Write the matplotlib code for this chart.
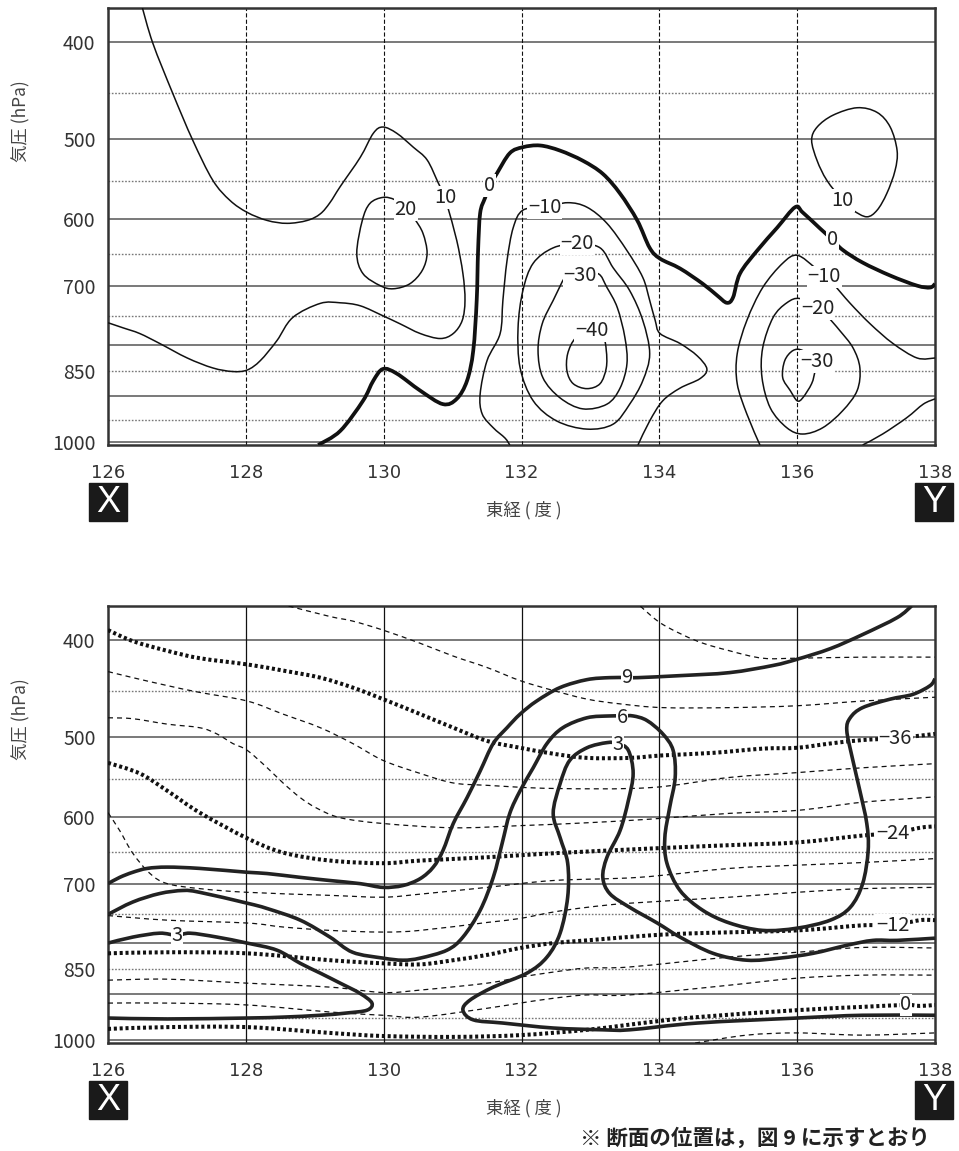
import numpy as np
import matplotlib.pyplot as plt
from matplotlib.patches import Rectangle, PathPatch
from matplotlib.path import Path
from matplotlib.ticker import NullLocator

plt.rcParams['font.family'] = ['Noto Sans CJK JP', 'DejaVu Sans']
plt.rcParams['lines.scale_dashes'] = False

# axes ranges / ticks
lon_ticks = [126, 128, 130, 132, 134, 136, 138]
p_ticks = [400, 500, 600, 700, 850, 1000]
p_solid = [400, 500, 600, 700, 800, 900, 1000]
p_dotted = [450, 550, 650, 750, 850, 950]
lon_grid = [128, 130, 132, 134, 136]

# ---------------- upper panel (lon, hPa) ----------------
up_10a_lon = [126.49, 126.65, 126.94, 127.23, 127.52, 127.77, 128.02, 128.31, 128.60, 128.89,
              129.08, 129.22, 129.37, 129.66, 129.85, 129.99, 130.19, 130.43, 130.63, 130.79,
              130.89, 130.93, 131.06, 131.15, 131.18, 131.14, 131.01, 130.82, 130.53, 130.24,
              129.99, 129.66, 129.37, 129.08, 128.68, 128.45, 128.21, 128.02, 127.81, 127.52,
              127.15, 126.75, 126.46, 126.22, 126.00]
up_10a_hpa = [368, 401, 450, 501, 549, 575, 591, 602, 606, 602,
              593, 578, 557, 521, 493, 486, 493, 509, 524, 552,
              571, 584, 630, 680, 723, 757, 780, 789, 780, 763,
              749, 732, 727, 728, 752, 793, 830, 848, 851, 844,
              825, 798, 780, 770, 761]

up_20_lon = [129.99, 129.80, 129.69, 129.61, 129.70, 129.95, 130.14, 130.38, 130.56, 130.63,
             130.57, 130.45, 130.32, 130.16, 129.99]
up_20_hpa = [571, 579, 602, 649, 680, 699, 704, 696, 675, 649,
             620, 600, 584, 574, 571]

up_0_lon = [129.05, 129.37, 129.70, 129.85, 129.99, 130.19, 130.53, 130.86, 131.06, 131.21,
            131.30, 131.35, 131.37, 131.40, 131.47, 131.54, 131.64, 131.83, 132.02, 132.27,
            132.56, 132.89, 133.18, 133.43, 133.68, 133.86, 134.01, 134.30, 134.63, 134.84,
            134.98, 135.07, 135.17, 135.42, 135.71, 135.97, 136.08, 136.33, 136.51, 136.66,
            136.95, 137.35, 137.74, 137.93, 138.00]
up_0_hpa = [1007, 975, 910, 869, 846, 855, 889, 917, 906, 869,
            811, 723, 645, 592, 572, 556, 541, 516, 509, 507,
            513, 525, 541, 566, 602, 641, 657, 672, 696, 715,
            727, 718, 680, 645, 612, 584, 591, 613, 629, 644,
            663, 683, 699, 702, 696]

up_m10_lon = [131.83, 131.76, 131.59, 131.43, 131.40, 131.50, 131.69, 131.73, 131.79, 131.88,
              132.02, 132.34, 132.67, 132.95, 133.24, 133.53, 133.76, 133.86, 133.94, 134.01,
              134.30, 134.55, 134.69, 134.59, 134.30, 134.05, 133.86, 133.69]
up_m10_hpa = [1007, 991, 968, 938, 896, 830, 780, 723, 660, 612,
              588, 584, 578, 584, 606, 645, 686, 723, 757, 780,
              798, 821, 846, 865, 884, 910, 953, 1007]

up_m20_lon = [132.81, 132.46, 132.17, 132.02, 131.95, 131.98, 132.17, 132.51, 132.95, 133.33,
              133.57, 133.76, 133.86, 133.76, 133.57, 133.33, 133.14, 132.81]
up_m20_hpa = [635, 641, 664, 707, 770, 844, 910, 953, 971, 960,
              917, 869, 817, 757, 707, 671, 641, 635]

up_m30_lon = [132.85, 132.67, 132.46, 132.30, 132.24, 132.31, 132.56, 132.89, 133.24, 133.43,
              133.53, 133.50, 133.39, 133.24, 133.11, 132.85]
up_m30_hpa = [683, 680, 723, 763, 811, 863, 904, 927, 917, 884,
              836, 787, 735, 702, 680, 683]

up_m40_lon = [132.95, 132.78, 132.67, 132.66, 132.75, 132.95, 133.14, 133.23, 133.23, 133.18, 132.95]
up_m40_hpa = [785, 789, 817, 850, 875, 885, 875, 844, 811, 789, 785]

up_10b_lon = [136.66, 136.81, 137.01, 137.16, 137.30, 137.42, 137.45, 137.35, 137.16, 136.87,
              136.52, 136.29, 136.21, 136.29, 136.43, 136.66]
up_10b_hpa = [575, 588, 597, 588, 566, 537, 513, 486, 470, 465,
              473, 486, 501, 525, 549, 575]

up_m10b_lon = [135.46, 135.27, 135.13, 135.13, 135.27, 135.50, 135.79, 136.00, 136.26, 136.39,
               136.52, 136.77, 137.06, 137.39, 137.74, 138.00]
up_m10b_hpa = [1007, 938, 875, 817, 757, 702, 664, 652, 671, 685,
               696, 728, 763, 798, 825, 825]

up_m20b_lon = [136.30, 136.04, 135.85, 135.65, 135.50, 135.49, 135.61, 135.85, 136.08, 136.37,
               136.66, 136.87, 136.91, 136.81, 136.62, 136.43, 136.30]
up_m20b_hpa = [737, 720, 727, 752, 806, 863, 925, 968, 982, 968,
               931, 889, 844, 806, 775, 749, 737]

up_m30b_lon = [136.29, 136.08, 135.94, 135.82, 135.79, 135.90, 136.00, 136.08, 136.21, 136.26, 136.29]
up_m30b_hpa = [832, 811, 811, 830, 863, 889, 910, 904, 875, 850, 832]

up_edge_lon = [136.95, 137.24, 137.59, 137.83, 138.00]
up_edge_hpa = [1007, 982, 946, 917, 906]

up_labels = [('20', 130.32, 587), ('10', 130.89, 571), ('0', 131.54, 556),
             ('−10', 132.34, 584), ('−20', 132.81, 635), ('−30', 132.85, 683),
             ('−40', 133.02, 775), ('10', 136.66, 575), ('0', 136.51, 629),
             ('−10', 136.39, 685), ('−20', 136.30, 737), ('−30', 136.29, 832)]

# ---------------- lower panel (lon, hPa) ----------------
# temperature (dashed every 4, dotted every 12)
dn_m44_lon = [133.73, 133.76, 134.05, 134.55, 135.02, 135.50, 136.00, 136.95, 138.00]
dn_m44_hpa = [370, 372, 386, 401, 410, 417, 417, 416, 416]

dn_m40_lon = [128.62, 129.22, 129.55, 129.99, 130.53, 131.01, 131.50, 131.98, 132.46, 132.95,
              133.43, 134.05, 135.02, 136.00, 136.95, 138.00]
dn_m40_hpa = [370, 379, 383, 391, 403, 415, 426, 439, 449, 458,
              463, 467, 467, 465, 460, 456]

dn_m36_lon = [126.00, 126.36, 126.86, 127.33, 128.02, 128.54, 129.08, 129.55, 129.99, 130.53,
              131.01, 131.50, 131.98, 132.46, 132.95, 133.57, 134.05, 134.78, 135.50, 136.00,
              136.48, 136.95, 137.42, 137.78, 138.00]
dn_m36_hpa = [391, 401, 410, 417, 423, 429, 436, 446, 458, 474,
              489, 504, 512, 519, 524, 524, 521, 518, 513, 512,
              507, 503, 501, 498, 496]

dn_m32_lon = [126.00, 126.36, 126.86, 127.33, 128.02, 128.54, 129.08, 129.55, 129.99, 130.53,
              131.01, 131.50, 132.46, 133.86, 135.02, 136.00, 136.95, 138.00]
dn_m32_hpa = [430, 436, 444, 451, 460, 474, 489, 507, 527, 543,
              555, 558, 562, 561, 548, 542, 536, 531]

dn_m28_lon = [126.00, 126.36, 126.86, 127.33, 127.58, 127.81, 128.02, 128.31, 128.54, 128.79,
              129.03, 129.37, 129.99, 131.01, 131.98, 132.95, 133.86, 135.02, 136.00, 136.95, 138.00]
dn_m28_hpa = [478, 479, 485, 489, 496, 507, 515, 536, 555, 574,
              588, 601, 609, 615, 612, 608, 603, 595, 591, 580, 573]

dn_m24_lon = [126.00, 126.46, 126.86, 127.33, 128.02, 128.54, 129.22, 129.99, 130.53, 131.50,
              132.46, 133.86, 135.02, 136.00, 136.95, 137.39, 137.78, 138.00]
dn_m24_hpa = [530, 543, 565, 594, 630, 651, 663, 667, 663, 658,
              652, 645, 640, 636, 626, 623, 615, 613]

dn_m20_lon = [126.00, 126.17, 126.36, 126.61, 126.86, 127.33, 128.02, 129.22, 129.99, 130.53,
              131.50, 132.46, 133.70, 135.02, 136.00, 136.95, 138.00]
dn_m20_hpa = [594, 619, 652, 683, 699, 707, 713, 718, 721, 716,
              705, 694, 689, 675, 670, 666, 660]

dn_m16_lon = [126.00, 126.86, 128.02, 128.54, 129.22, 129.99, 130.53, 131.50, 131.98, 132.46,
              132.95, 133.57, 135.02, 136.00, 136.95, 138.00]
dn_m16_hpa = [752, 760, 765, 772, 778, 781, 778, 764, 757, 746,
              738, 731, 721, 713, 707, 705]

dn_m12_lon = [126.00, 126.86, 128.02, 129.22, 129.99, 130.53, 131.01, 131.50, 131.98, 132.46,
              132.95, 133.86, 134.55, 136.00, 136.95, 137.39, 137.78, 138.00]
dn_m12_hpa = [820, 818, 820, 833, 839, 841, 833, 823, 810, 801,
              796, 787, 783, 778, 769, 769, 760, 760]

dn_m8_lon = [126.00, 126.86, 128.02, 129.22, 129.99, 130.53, 131.50, 131.98, 132.46, 132.95,
             133.57, 135.02, 136.00, 136.95, 138.00]
dn_m8_hpa = [872, 870, 878, 886, 897, 892, 878, 866, 856, 848,
             846, 827, 818, 809, 810]

dn_m4_lon = [126.00, 126.86, 128.02, 129.22, 129.99, 130.53, 131.50, 131.98, 132.46, 132.95,
             133.57, 135.02, 136.00, 136.95, 138.00]
dn_m4_hpa = [919, 919, 923, 938, 945, 949, 930, 919, 909, 902,
             902, 882, 868, 862, 862]

dn_0_lon = [126.00, 126.86, 128.02, 129.22, 129.99, 131.01, 131.98, 132.95, 133.86, 134.55,
            136.00, 136.95, 137.58, 137.78, 138.00]
dn_0_hpa = [975, 971, 971, 984, 991, 993, 989, 977, 960, 949,
            934, 927, 923, 925, 923]

dn_p4_lon = [134.52, 135.27, 136.00, 136.95, 138.00]
dn_p4_hpa = [1007, 989, 984, 989, 984]

# thick solid lines (9, 6, 3)
dn_9_lon = [126.00, 126.17, 126.36, 126.57, 126.86, 127.33, 128.02, 128.31, 128.79, 129.22,
            129.66, 129.99, 130.28, 130.53, 130.72, 130.86, 131.01, 131.21, 131.40, 131.59,
            131.79, 131.98, 132.22, 132.56, 132.95, 133.28, 133.53, 133.69, 134.30, 135.02,
            135.65, 136.00, 136.48, 136.95, 137.45, 137.66]
dn_9_hpa = [699, 689, 681, 675, 673, 675, 681, 683, 689, 694,
            699, 705, 702, 691, 673, 648, 609, 574, 540, 507,
            489, 474, 460, 446, 438, 436, 436, 436, 434, 431,
            424, 418, 408, 395, 380, 370]

dn_6_lon = [126.00, 126.36, 126.75, 127.09, 127.33, 128.02, 128.31, 128.79, 129.22, 129.55,
            129.99, 130.28, 130.53, 130.92, 131.15, 131.40, 131.59, 131.72, 131.83, 131.98,
            132.17, 132.37, 132.60, 132.95, 133.28, 133.46, 133.62, 133.82, 134.05, 134.20,
            134.23, 134.15, 134.08, 134.11, 134.30, 134.63, 135.02, 135.50, 136.00, 136.48,
            136.77, 136.95, 137.03, 137.01, 136.91, 136.80, 136.72, 136.77, 136.95, 137.35,
            137.68, 137.93, 138.00]
dn_6_hpa = [750, 729, 715, 710, 713, 731, 740, 760, 790, 818,
            829, 833, 829, 814, 790, 743, 689, 637, 595, 565,
            536, 507, 489, 478, 476, 476, 476, 481, 496, 515,
            548, 587, 629, 667, 710, 743, 765, 778, 774, 760,
            738, 699, 648, 609, 565, 524, 492, 478, 467, 458,
            453, 444, 437]

dn_3a_lon = [138.00, 136.95, 136.00, 134.55, 133.57, 133.18, 132.46, 131.73, 131.30, 131.15,
             131.25, 131.59, 132.08, 132.37, 132.56, 132.67, 132.67, 132.56, 132.46, 132.56,
             132.70, 132.95, 133.24, 133.40, 133.55, 133.62, 133.55, 133.43, 133.24, 133.18,
             133.28, 133.57, 133.97, 134.30, 134.78, 135.27, 135.75, 136.23, 136.72, 137.10,
             137.45, 138.00]
dn_3a_hpa = [945, 945, 951, 962, 977, 977, 973, 962, 955, 934,
             913, 886, 858, 827, 783, 721, 667, 629, 595, 556,
             527, 512, 506, 507, 515, 543, 578, 619, 658, 689,
             715, 738, 765, 790, 820, 833, 829, 820, 805, 796,
             796, 792]

dn_3b_lon = [126.00, 126.36, 126.75, 127.00, 127.19, 127.58, 128.02, 128.45, 128.79, 129.08,
             129.37, 129.66, 129.83, 129.76, 129.47, 129.08, 128.54, 128.02, 126.86, 126.00]
dn_3b_hpa = [801, 790, 783, 787, 783, 790, 801, 814, 839, 858,
             878, 899, 919, 934, 940, 945, 949, 951, 953, 951]

dn_labels = [('9', 133.53, 436), ('6', 133.46, 478), ('3', 133.40, 508), ('3', 127.00, 787),
             ('−36', 137.42, 501), ('−24', 137.39, 623), ('−12', 137.39, 769), ('0', 137.58, 923)]

STYLE = {
    'thin': dict(ec='#111111', lw=1.1),
    'bold': dict(ec='#111111', lw=2.7),
    'dash': dict(ec='#111111', lw=0.9, linestyle=(0, (3.6, 2.9))),
    'dot': dict(ec='#111111', lw=2.9, linestyle=(0, (2.2, 2.0))),
    'solid': dict(ec='#222222', lw=2.6),
}

up_lines = [(up_10a_lon, up_10a_hpa, 'thin'), (up_20_lon, up_20_hpa, 'thin'),
            (up_0_lon, up_0_hpa, 'bold'), (up_m10_lon, up_m10_hpa, 'thin'),
            (up_m20_lon, up_m20_hpa, 'thin'), (up_m30_lon, up_m30_hpa, 'thin'),
            (up_m40_lon, up_m40_hpa, 'thin'), (up_10b_lon, up_10b_hpa, 'thin'),
            (up_m10b_lon, up_m10b_hpa, 'thin'), (up_m20b_lon, up_m20b_hpa, 'thin'),
            (up_m30b_lon, up_m30b_hpa, 'thin'), (up_edge_lon, up_edge_hpa, 'thin')]

dn_lines = [(dn_m44_lon, dn_m44_hpa, 'dash'), (dn_m40_lon, dn_m40_hpa, 'dash'),
            (dn_m36_lon, dn_m36_hpa, 'dot'), (dn_m32_lon, dn_m32_hpa, 'dash'),
            (dn_m28_lon, dn_m28_hpa, 'dash'), (dn_m24_lon, dn_m24_hpa, 'dot'),
            (dn_m20_lon, dn_m20_hpa, 'dash'), (dn_m16_lon, dn_m16_hpa, 'dash'),
            (dn_m12_lon, dn_m12_hpa, 'dot'), (dn_m8_lon, dn_m8_hpa, 'dash'),
            (dn_m4_lon, dn_m4_hpa, 'dash'), (dn_0_lon, dn_0_hpa, 'dot'),
            (dn_p4_lon, dn_p4_hpa, 'dash'),
            (dn_9_lon, dn_9_hpa, 'solid'), (dn_6_lon, dn_6_hpa, 'solid'),
            (dn_3a_lon, dn_3a_hpa, 'solid'), (dn_3b_lon, dn_3b_hpa, 'solid')]

W, H = 959, 1151
fig = plt.figure(figsize=(W / 100, H / 100), dpi=100)


def px(x, y):
    # figure pixel (from top-left) -> figure fraction
    return x / W, 1 - y / H


def smooth_path(lon, hpa):
    # cubic Bezier through the read points (Catmull-Rom), built in (lon, log p)
    pts = np.column_stack([np.asarray(lon, float), np.log10(hpa)])
    closed = np.allclose(pts[0], pts[-1])
    n = len(pts)
    verts, codes = [pts[0]], [Path.MOVETO]
    for i in range(n - 1):
        if closed:
            p0 = pts[(i - 1) % (n - 1)]
            p3 = pts[(i + 2) % (n - 1)]
        else:
            p0 = pts[max(i - 1, 0)]
            p3 = pts[min(i + 2, n - 1)]
        p1, p2 = pts[i], pts[i + 1]
        verts += [p1 + (p2 - p0) / 6, p2 - (p3 - p1) / 6, p2]
        codes += [Path.CURVE4] * 3
    v = np.array(verts)
    v[:, 1] = 10 ** v[:, 1]
    return Path(v, codes)


def setup(ax, vdash):
    ax.set_yscale('log')
    ax.set_xlim(126, 138)
    ax.set_ylim(1007, 370)
    for p in p_solid:
        ax.axhline(p, color='#555555', lw=1.1, zorder=1)
    for p in p_dotted:
        ax.axhline(p, color='#777777', lw=1.0, linestyle=(0, (1.2, 1.2)), zorder=1)
    for lon in lon_grid:
        if vdash:
            ax.axvline(lon, color='#111111', lw=0.8, linestyle=(0, (3, 1.6)), zorder=1)
        else:
            ax.axvline(lon, color='#111111', lw=0.9, zorder=1)
    ax.yaxis.set_minor_locator(NullLocator())
    ax.set_yticks(p_ticks)
    ax.set_yticklabels([str(p) for p in p_ticks], fontsize=14, color='#333333')
    ax.set_xticks(lon_ticks)
    ax.set_xticklabels([str(t) for t in lon_ticks], fontsize=13, color='#333333',
                       family='DejaVu Sans')
    ax.tick_params(length=0)
    ax.tick_params(axis='x', pad=14)
    ax.tick_params(axis='y', pad=9)
    for s in ax.spines.values():
        s.set_color('#333333')
        s.set_linewidth(1.8)


def draw(ax, lines, labels):
    for lon, hpa, st in lines:
        ax.add_patch(PathPatch(smooth_path(lon, hpa), fill=False, zorder=3,
                               joinstyle='round', capstyle='butt', **STYLE[st]))
    for s, lon, hpa in labels:
        ax.text(lon, hpa, s, ha='center', va='center', fontsize=14.5, color='#222222', zorder=5,
                bbox=dict(fc='white', ec='none', pad=0.6))


def decorate(y_top, y_bot):
    # y label, x label, X / Y end markers
    fig.text(*px(21, y_top + 113), '気圧 (hPa)', rotation=90, ha='center', va='center',
             fontsize=12.5, color='#444444')
    fig.text(*px(524, y_bot + 65), '東経 ( 度 )', ha='center', va='center',
             fontsize=12.5, color='#444444')
    for xc, s in [(108, 'X'), (934, 'Y')]:
        x0, y0 = px(xc - 19, y_bot + 76)
        fig.add_artist(Rectangle((x0, y0), 38 / W, 38 / H, transform=fig.transFigure,
                                 color='#1a1a1a', zorder=2))
        fig.text(*px(xc, y_bot + 57), s, ha='center', va='center', fontsize=26,
                 color='white', family='Liberation Sans', zorder=3)


ax1 = fig.add_axes([108 / W, 1 - 445 / H, 827 / W, 437 / H])
setup(ax1, True)
draw(ax1, up_lines, up_labels)
decorate(8, 445)

ax2 = fig.add_axes([108 / W, 1 - 1043 / H, 827 / W, 437 / H])
setup(ax2, False)
draw(ax2, dn_lines, dn_labels)
decorate(606, 1043)

fig.text(*px(930, 1138), '※ 断面の位置は，図 9 に示すとおり', ha='right', va='center',
         fontsize=15.5, fontweight='bold', color='#222222')

fig.savefig('out.png', dpi=100)
